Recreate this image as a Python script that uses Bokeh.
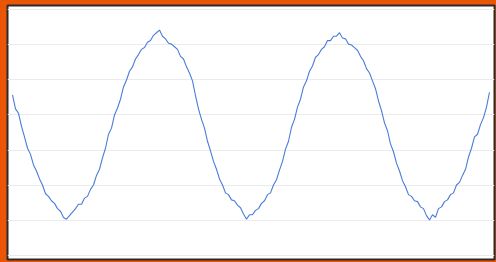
from bokeh.plotting import figure
from bokeh.models import FixedTicker, Range1d, GlobalInlineStyleSheet
from bokeh.embed import file_html
from bokeh.resources import INLINE

# sample index and signal values
signal = [
    0.43, 0.27, 0.22, 0.07, -0.05, -0.18, -0.25, -0.37, -0.44, -0.53,
    -0.60, -0.70, -0.73, -0.78, -0.81, -0.87, -0.90, -0.97, -0.99, -0.95,
    -0.91, -0.87, -0.82, -0.82, -0.75, -0.73, -0.65, -0.60, -0.49, -0.42,
    -0.29, -0.18, -0.02, 0.05, 0.20, 0.28, 0.38, 0.52, 0.60, 0.70,
    0.75, 0.84, 0.89, 0.95, 0.97, 1.03, 1.05, 1.11, 1.14, 1.17,
    1.10, 1.07, 1.02, 1.01, 0.98, 0.95, 0.87, 0.84, 0.75, 0.68,
    0.59, 0.42, 0.27, 0.15, 0.05, -0.10, -0.21, -0.33, -0.42, -0.53,
    -0.60, -0.69, -0.71, -0.77, -0.78, -0.83, -0.86, -0.93, -0.99, -0.94,
    -0.94, -0.89, -0.87, -0.81, -0.78, -0.71, -0.69, -0.60, -0.54, -0.43,
    -0.33, -0.19, -0.10, 0.06, 0.15, 0.29, 0.38, 0.52, 0.59, 0.70,
    0.76, 0.86, 0.89, 0.95, 0.98, 1.05, 1.05, 1.10, 1.10, 1.14,
    1.08, 1.07, 1.01, 1.00, 0.97, 0.94, 0.87, 0.82, 0.73, 0.68,
    0.59, 0.50, 0.36, 0.25, 0.11, 0.02, -0.13, -0.22, -0.35, -0.44,
    -0.55, -0.62, -0.71, -0.73, -0.78, -0.79, -0.85, -0.87, -0.95, -1.00,
    -0.94, -0.97, -0.87, -0.85, -0.79, -0.77, -0.71, -0.69, -0.60, -0.57,
    -0.49, -0.42, -0.28, -0.18, -0.05, -0.02, 0.09, 0.17, 0.29, 0.46,
]
sample = list(range(len(signal)))
grid_values = [-1.4, -1.0, -0.6, -0.2, 0.2, 0.6, 1.0, 1.4]

ORANGE = "#ea5506"

p = figure(
    width=496, height=262,
    output_backend="svg", toolbar_location=None,
    x_range=Range1d(-1.667, 160.667),
    y_range=Range1d(-1.451, 1.451),
    min_border_left=7, min_border_top=5, min_border_right=2, min_border_bottom=3,
    border_fill_color=ORANGE,
    background_fill_color="white",
    outline_line_color="#2a2a2a", outline_line_width=2,
)
p.stylesheets = [GlobalInlineStyleSheet(css="html, body { margin: 0; padding: 0; background: #ea5506; }")]

p.xaxis.visible = False
p.yaxis.visible = False
p.xgrid.visible = False
p.ygrid.ticker = FixedTicker(ticks=grid_values)
p.ygrid.grid_line_color = "#ebebeb"
p.ygrid.grid_line_width = 1

p.line(sample, signal, line_color="#4a7bd8", line_width=1.1)

open("out.html", "w").write(file_html(p, INLINE))
